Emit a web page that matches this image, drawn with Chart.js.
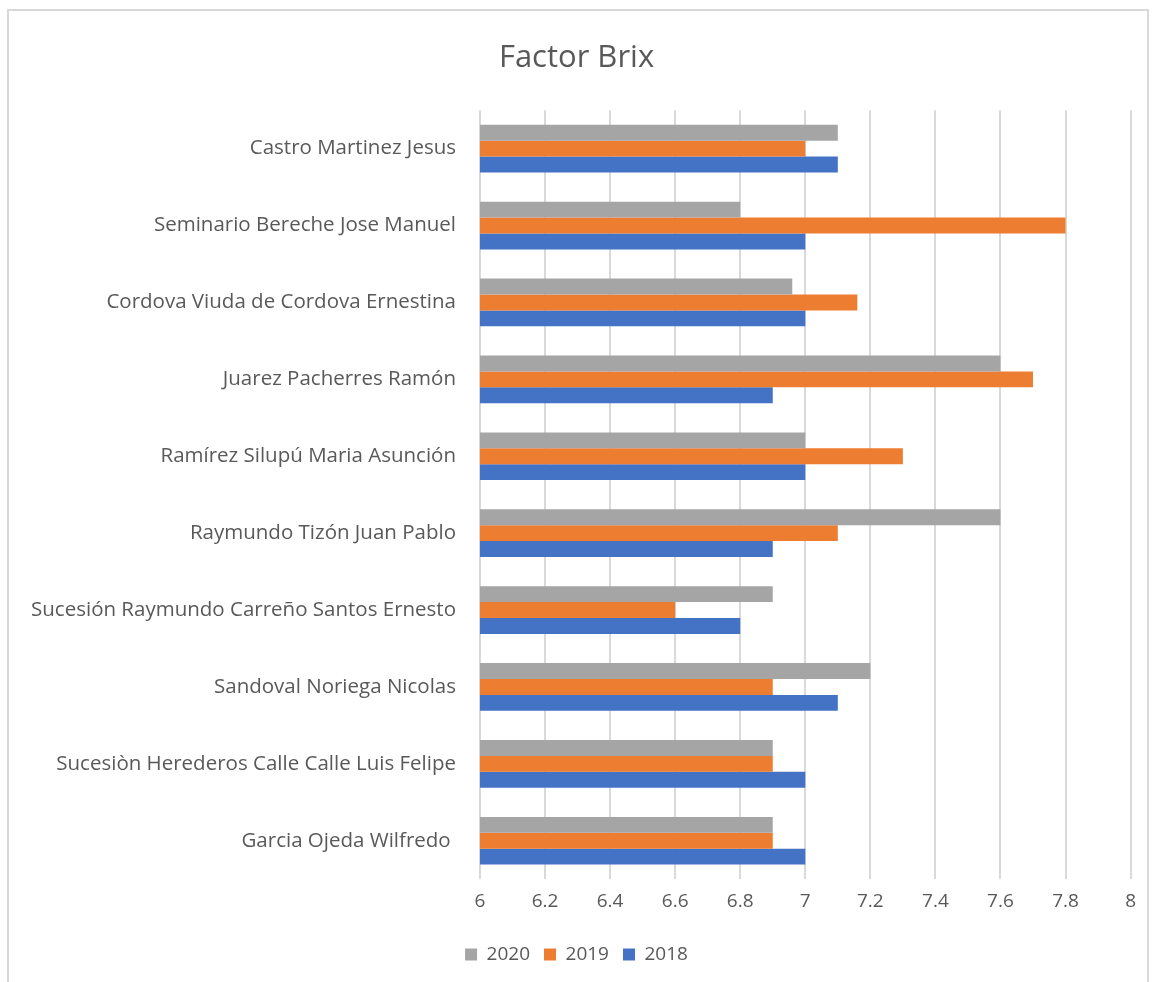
<!DOCTYPE html>
<html>
<head>
<meta charset="utf-8">
<script src="https://cdn.jsdelivr.net/npm/chart.js@4/dist/chart.umd.min.js"></script>
<style>
  html, body { margin: 0; padding: 0; background: #fff; }
  #frame {
    position: absolute; left: 7px; top: 9px;
    width: 1142px; height: 975px;
    border: 2px solid #d9d9d9; box-sizing: border-box;
  }
  #chart { display: block; }
</style>
</head>
<body>
<div id="frame"><canvas id="chart" width="1138" height="971"></canvas></div>
<script>
const categories = [
  "Castro Martinez Jesus",
  "Seminario Bereche Jose Manuel",
  "Cordova Viuda de Cordova Ernestina",
  "Juarez Pacherres Ramón",
  "Ramírez Silupú Maria Asunción",
  "Raymundo Tizón Juan Pablo",
  "Sucesión Raymundo Carreño Santos Ernesto",
  "Sandoval Noriega Nicolas",
  "Sucesiòn Herederos Calle Calle Luis Felipe",
  "Garcia Ojeda Wilfredo "
];
const values2020 = [7.1, 6.8, 6.96, 7.6, 7.0, 7.6, 6.9, 7.2, 6.9, 6.9];
const values2019 = [7.0, 7.8, 7.16, 7.7, 7.3, 7.1, 6.6, 6.9, 6.9, 6.9];
const values2018 = [7.1, 7.0, 7.0, 6.9, 7.0, 6.9, 6.8, 7.1, 7.0, 7.0];
const seriesNames = ["2020", "2019", "2018"];
const seriesColors = ["#A5A5A5", "#ED7D31", "#4472C4"];

const font = "'Open Sans', 'Noto Sans', sans-serif";
const textColor = "#595959";

new Chart(document.getElementById("chart"), {
  type: "bar",
  data: {
    labels: categories,
    datasets: [values2020, values2019, values2018].map((data, i) => ({
      label: seriesNames[i],
      data,
      backgroundColor: seriesColors[i],
      borderWidth: 0,
      categoryPercentage: 0.62,
      barPercentage: 1.0
    }))
  },
  options: {
    indexAxis: "y",
    responsive: false,
    animation: false,
    layout: { padding: { left: 0, right: 3, top: 0, bottom: 8 } },
    plugins: {
      title: {
        display: true,
        text: "Factor Brix",
        color: textColor,
        font: { family: font, size: 31, weight: "normal" },
        padding: { top: 29, bottom: 33 }
      },
      legend: {
        position: "bottom",
        labels: {
          color: textColor,
          font: { family: font, size: 19 },
          boxWidth: 12,
          boxHeight: 12,
          padding: 14
        }
      },
      tooltip: { enabled: false }
    },
    scales: {
      x: {
        min: 6,
        max: 8,
        ticks: {
          stepSize: 0.2,
          color: textColor,
          font: { family: font, size: 19 },
          padding: 11,
          callback: (v) => String(Number(Number(v).toFixed(1)))
        },
        grid: { color: "#d9d9d9", lineWidth: 2, drawTicks: false },
        border: { display: false },
        afterFit: (scale) => { scale.height += 7; }
      },
      y: {
        ticks: {
          color: textColor,
          font: { family: font, size: 20.5 },
          padding: 16
        },
        grid: { display: false },
        border: { display: false },
        afterFit: (scale) => { scale.width = 471; }
      }
    }
  }
});
</script>
</body>
</html>
